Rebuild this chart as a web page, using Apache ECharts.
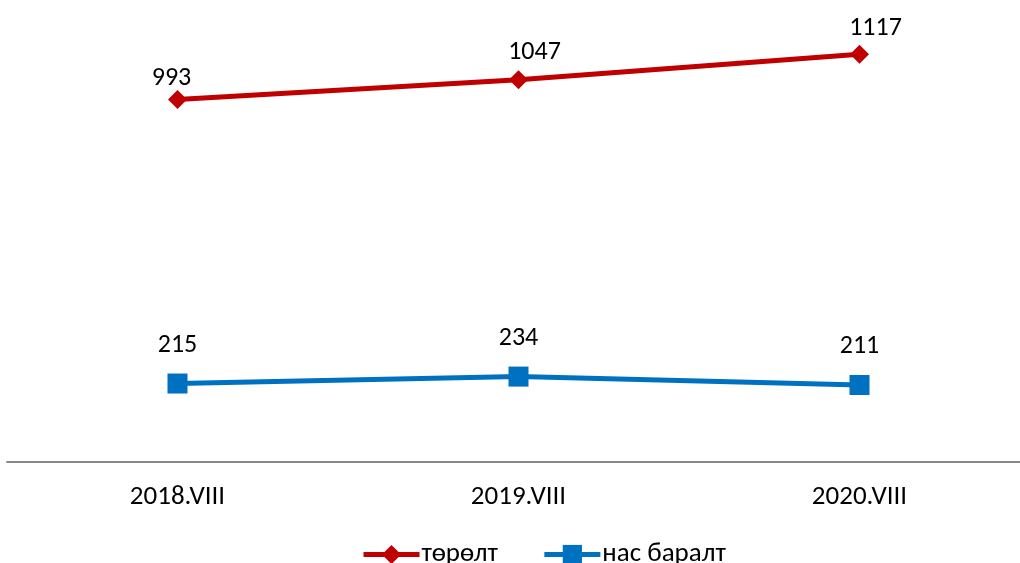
<!DOCTYPE html>
<html lang="mn">
<head>
  <meta charset="utf-8">
  <style>
    html, body { margin: 0; padding: 0; background: #fff; }
    #container { width: 1020px; height: 563px; }
  </style>
  <title>төрөлт, нас баралт</title>
</head>
<body>
  <div id="container"></div>
  <script src="https://cdn.jsdelivr.net/npm/echarts@6/dist/echarts.min.js"></script>
  <script>
    var categories = ['2018.VIII', '2019.VIII', '2020.VIII'];
    var births = [993, 1047, 1117];
    var deaths = [215, 234, 211];

    // label nudges, as placed in the original
    var birthLabelShift = [[-6, 6], [16, 0], [16, 2]];
    var deathLabelShift = [[0, 0], [0, 0], [0, 0]];

    var font = "Carlito, Lato, 'Liberation Sans', sans-serif";
    var myChart = echarts.init(document.getElementById('container'));

    function withShift(values, shifts) {
      return values.map(function (v, i) {
        return { value: v, label: { offset: shifts[i] } };
      });
    }

    myChart.setOption({
      animation: false,
      textStyle: { fontFamily: font },
      grid: { left: 7, width: 1023, top: 24, bottom: 101, outerBoundsMode: 'none', containLabel: false },
      legend: {
        top: 536,
        left: 356,
        itemWidth: 56,
        itemHeight: 24,
        itemGap: 44,
        lineStyle: { width: 5 },
        textStyle: { fontSize: 27, color: '#000', fontFamily: font, padding: [0, 0, 0, -3] },
        data: ['төрөлт', 'нас баралт']
      },
      xAxis: {
        type: 'category',
        data: categories,
        axisLine: { lineStyle: { color: '#898989', width: 2 } },
        axisTick: { show: false },
        axisLabel: { fontSize: 27, color: '#000', margin: 22, fontFamily: font }
      },
      yAxis: {
        type: 'value',
        min: 0,
        max: 1200,
        show: false,
        splitLine: { show: false }
      },
      series: [
        {
          name: 'төрөлт',
          type: 'line',
          data: withShift(births, birthLabelShift),
          symbol: 'diamond',
          symbolSize: 19,
          itemStyle: { color: '#C00000' },
          lineStyle: { color: '#C00000', width: 5 },
          label: { show: true, position: 'top', distance: 5, fontSize: 26, color: '#000', fontFamily: font }
        },
        {
          name: 'нас баралт',
          type: 'line',
          data: withShift(deaths, deathLabelShift),
          symbol: 'rect',
          symbolSize: 20,
          itemStyle: { color: '#0070C0' },
          lineStyle: { color: '#0070C0', width: 5 },
          label: { show: true, position: 'top', distance: 15, fontSize: 26, color: '#000', fontFamily: font }
        }
      ]
    });
  </script>
</body>
</html>
